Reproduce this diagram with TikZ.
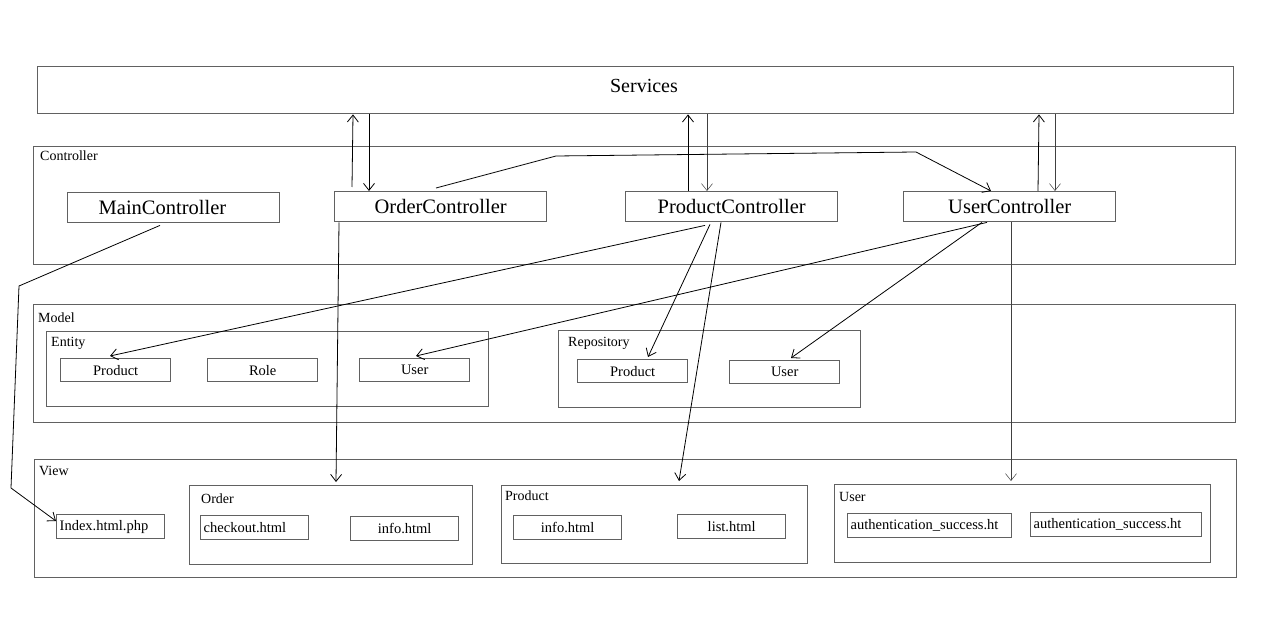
\documentclass[tikz,border=0pt]{standalone}
\usepackage{fontspec}
\setmainfont{Liberation Serif}
\usetikzlibrary{arrows.meta,calc}
\tikzset{
	box/.style={draw=black!62, line width=1.4pt, anchor=north west, inner sep=0pt},
	ctrl/.style={box, minimum width=212pt, minimum height=30pt, font=\fontsize{20.5}{24}\selectfont},
	file/.style={box, minimum height=24pt, font=\fontsize{14.5}{17}\selectfont},
	leftfile/.style={file, text width=#1, align=left, inner xsep=3pt},
	caption/.style={anchor=base west, inner sep=0pt, font=\fontsize{14}{16}\selectfont},
	conn/.style={line width=0.8pt, -{Straight Barb[length=7pt,width=11pt]}},
	thinconn/.style={conn, draw=black!75, line width=0.5pt},
}

\begin{document}
\begin{tikzpicture}[x=1pt, y=-1pt]
			%%%%% START %%%%%
			\useasboundingbox (0,0) rectangle (1261,617);
			
			% layers
			\node[box, minimum width=1196pt, minimum height=47pt] (services) at (37,66) {};
			\node[font=\fontsize{20}{24}\selectfont] (servicestext) at (644,86) {Services};
			\node[box, minimum width=1202pt, minimum height=118pt] (controller) at (33,146) {};
			\node[caption] (controllertext) at (40,161) {Controller};
			\node[box, minimum width=1202pt, minimum height=118pt] (model) at (33,304) {};
			\node[caption] (modeltext) at (38,323) {Model};
			\node[box, minimum width=1202pt, minimum height=118pt] (view) at (34,459) {};
			\node[caption] (viewtext) at (39,475) {View};
			
			% controllers
			\node[ctrl, text width=190pt, align=left, inner xsep=11pt] (main) at (67,192) {\hspace*{20pt}MainController};
			\node[ctrl] (order) at (334,191) {OrderController};
			\node[ctrl] (product) at (625,191) {ProductController};
			\node[ctrl] (user) at (903,191) {UserController};
			
			% model
			\node[box, minimum width=442pt, minimum height=75pt] (entity) at (46,331) {};
			\node[caption] (entitytext) at (51,347) {Entity};
			\node[file, minimum width=110pt, minimum height=23pt] (eproduct) at (60,358) {Product};
			\node[file, minimum width=110pt, minimum height=23pt] (erole) at (207,358) {Role};
			\node[file, minimum width=110pt, minimum height=23pt] (euser) at (359,358) {User};
			
			\node[box, minimum width=302pt, minimum height=77pt] (repository) at (558,330) {};
			\node[caption] (repositorytext) at (568,347) {Repository};
			\node[file, minimum width=110pt, minimum height=23pt] (rproduct) at (577,359) {Product};
			\node[file, minimum width=110pt, minimum height=23pt] (ruser) at (729,360) {User};
			
			% view
			\node[leftfile=102pt] (index) at (56,514) {Index.html.php};
			
			\node[box, minimum width=283pt, minimum height=79pt] (vorder) at (189,485) {};
			\node[caption] (vordertext) at (201,503) {Order};
			\node[leftfile=102pt] (checkout) at (200,515) {checkout.html};
			\node[file, minimum width=108pt] (oinfo) at (350,516) {info.html};
			
			\node[box, minimum width=306pt, minimum height=78pt] (vproduct) at (501,485) {};
			\node[caption] (vproducttext) at (505,500) {Product};
			\node[file, minimum width=108pt] (pinfo) at (513,515) {info.html};
			\node[file, minimum width=108pt] (plist) at (677,514) {list.html};
			
			\node[box, minimum width=376pt, minimum height=78pt] (vuser) at (834,484) {};
			\node[caption] (vusertext) at (839,501) {User};
			\node[leftfile=158pt] (authone) at (847,513) {authentication\_success.ht};
			\node[leftfile=165pt] (authtwo) at (1030,512) {authentication\_success.ht};
			
			% bends
			\coordinate (bendA) at (556,156);
			\coordinate (bendB) at (916,152);
			\coordinate (bendC) at (19,286);
			\coordinate (bendD) at (11,488);
			
			% controllers <-> services
			\draw[conn] ($(order.north west)+(18,-4)$) -- ($(services.south west)+(316,0)$);
			\draw[conn] ($(services.south west)+(332,0)$) -- ($(order.north west)+(35,0)$);
			\draw[conn] ($(product.north west)+(63,0)$) -- ($(services.south west)+(651,0)$);
			\draw[thinconn] ($(services.south west)+(670,0)$) -- ($(product.north west)+(82,0)$);
			\draw[conn] ($(user.north west)+(135,0)$) -- ($(services.south west)+(1002,0)$);
			\draw[thinconn] ($(services.south west)+(1018,0)$) -- ($(user.north west)+(152,0)$);
			
			% controller -> controller
			\draw[conn] ($(order.north west)+(102,-3)$) -- (bendA) -- (bendB) -- ($(user.north west)+(88,0)$);
			
			% controllers -> model / view
			\draw[conn] ($(main.south west)+(93,2)$) -- (bendC) -- (bendD) -- ($(index.north west)+(0,7)$);
			\draw[conn] ($(order.south west)+(5,0)$) -- ($(vorder.north west)+(147,-3)$);
			\draw[conn] ($(product.south west)+(80,3)$) -- ($(eproduct.north west)+(50,-2)$);
			\draw[conn] ($(product.south west)+(85,2)$) -- ($(rproduct.north west)+(71,-2)$);
			\draw[conn] ($(product.south west)+(96,0)$) -- ($(vproduct.north west)+(178,-4)$);
			\draw[conn] ($(user.south west)+(84,0)$) -- ($(euser.north west)+(57,-2)$);
			\draw[conn] ($(user.south west)+(79,0)$) -- ($(ruser.north west)+(62,-2)$);
			\draw[thinconn] ($(user.south west)+(108,0)$) -- ($(vuser.north west)+(177,-3)$);
			
			%%%%% END %%%%%
\end{tikzpicture}
\end{document}
